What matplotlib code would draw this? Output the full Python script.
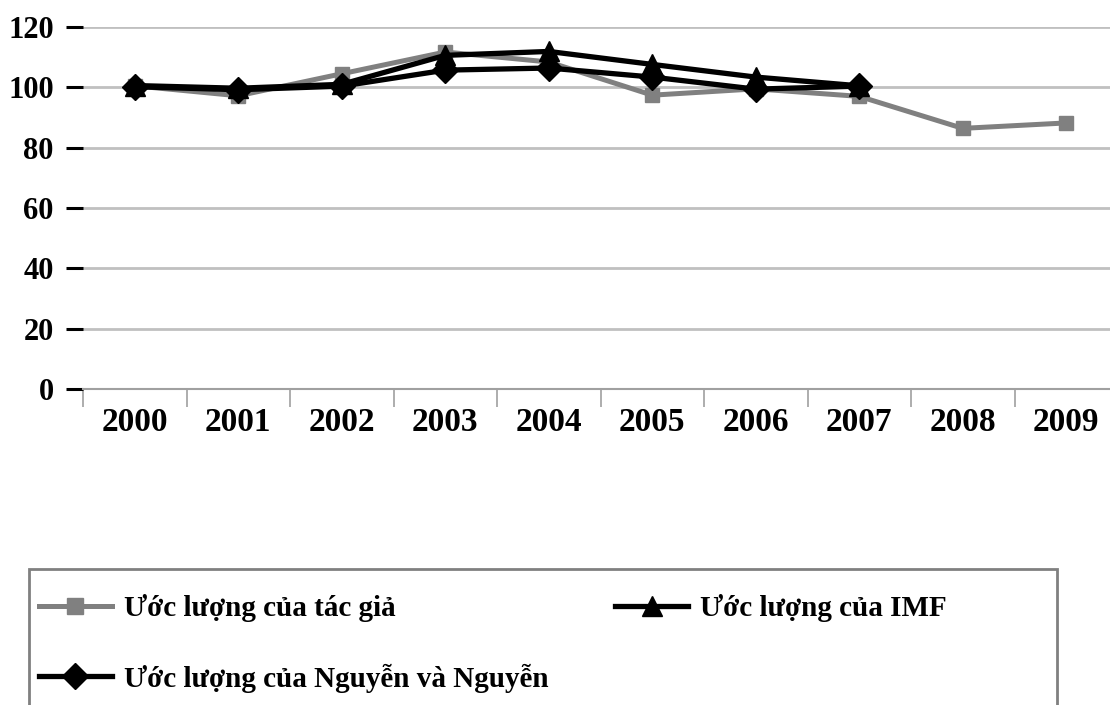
import matplotlib
matplotlib.use("Agg")
import matplotlib.pyplot as plt
from matplotlib.patches import Rectangle
from matplotlib.lines import Line2D

# -------------------------------
# data
# -------------------------------
years = ["2000", "2001", "2002", "2003", "2004", "2005", "2006", "2007", "2008", "2009"]
tac_gia = [100.5, 97.2, 104.5, 111.7, 108.4, 97.4, 99.5, 97.0, 86.4, 88.2]
imf = [100.6, 99.7, 101.0, 110.6, 111.9, 107.6, 103.4, 100.5]
nguyen = [100.2, 99.2, 100.4, 105.7, 106.4, 103.4, 99.4, 100.4]

labels = ["Ước lượng của tác giả", "Ước lượng của IMF", "Ước lượng của Nguyễn và Nguyễn"]
y_ticks = [0, 20, 40, 60, 80, 100, 120]

plt.rcParams["font.family"] = ["Liberation Serif", "DejaVu Serif"]
plt.rcParams["font.weight"] = "bold"

W, H = 1110, 705
fig = plt.figure(figsize=(W / 100, H / 100), dpi=100)
fig.patch.set_facecolor("white")

# plot area (right side is cut off in the reference)
left, right, top, bottom = 83, 1118, 27, 389
ax = fig.add_axes([left / W, 1 - bottom / H, (right - left) / W, (bottom - top) / H])

x = list(range(len(years)))
ax.plot(x[:len(tac_gia)], tac_gia, color="#808080", lw=3.6, marker="s",
        markersize=10, zorder=3)
ax.plot(x[:len(imf)], imf, color="black", lw=3.8, marker="^",
        markersize=14, zorder=4)
ax.plot(x[:len(nguyen)], nguyen, color="black", lw=3.8, marker="D",
        markersize=13, zorder=5)

ax.set_xlim(-0.5, len(years) - 0.5)
ax.set_ylim(0, 120)
ax.set_yticks(y_ticks)
ax.set_yticklabels([str(v) for v in y_ticks], fontsize=22, fontweight="bold")
ax.yaxis.grid(True, color="#c0c0c0", lw=2)
ax.set_axisbelow(True)

# category labels centred, ticks on boundaries
ax.set_xticks(x)
ax.set_xticklabels(years, fontsize=24, fontweight="bold")
ax.tick_params(axis="x", length=0, pad=13)
ax.set_xticks([i - 0.5 for i in range(len(years) + 1)], minor=True)
ax.tick_params(axis="x", which="minor", length=13, width=1.2, color="#a0a0a0", direction="out")
ax.tick_params(axis="y", length=12, width=2.2, color="black", pad=9)

for s in ["top", "right", "left"]:
    ax.spines[s].set_visible(False)
ax.spines["bottom"].set_color("#a0a0a0")
ax.spines["bottom"].set_linewidth(1.5)

# legend frame (extends past the bottom edge)
frame = Rectangle((29 / W, -0.05), (1057 - 29) / W, 1 - 569 / H + 0.05,
                  transform=fig.transFigure, fill=False, edgecolor="#808080", lw=2)
fig.patches.append(frame)

h1 = Line2D([], [], color="#808080", lw=3.6, marker="s", markersize=11)
h2 = Line2D([], [], color="black", lw=3.8, marker="^", markersize=14)
h3 = Line2D([], [], color="black", lw=3.8, marker="D", markersize=13)
fig.legend([h1, h3, h2], [labels[0], labels[2], labels[1]], ncol=2,
           loc="upper left", bbox_to_anchor=(39 / W, 1 - 594 / H),
           frameon=False, prop={"size": 21, "weight": "bold"},
           handlelength=2.5, handletextpad=0.4, columnspacing=2.3,
           labelspacing=1.42, borderaxespad=0, borderpad=0)

fig.savefig("out.png", dpi=100, facecolor="white")
